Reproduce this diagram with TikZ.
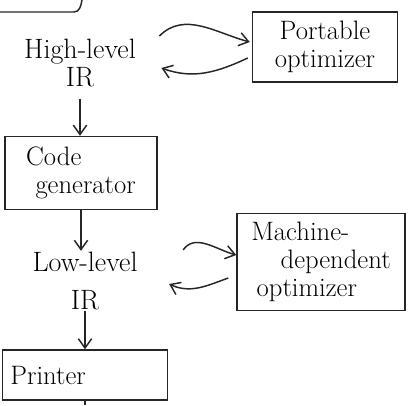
\documentclass[tikz,border=0pt]{standalone}
\usetikzlibrary{arrows.meta,calc}
\begin{document}
\begin{tikzpicture}[x=0.75pt,y=-0.75pt,
  ink/.style={draw=black!85, line width=1.1pt},
  box/.style={ink, rectangle, inner sep=1pt, font=\fontsize{20}{21}\selectfont, align=center},
  lbl/.style={inner sep=1pt, font=\fontsize{21}{21}\selectfont, align=center},
  arr/.style={ink, -{Straight Barb[length=7pt,width=10pt]}}]
\useasboundingbox (0,0) rectangle (414,405);
% partial box at top left
\draw[ink] (0,12) -- (74,12) to[out=0,in=-100] (82,0);
% nodes
\node[lbl] (hl) at (80,63) {High-level\\IR};
\node[box, minimum width=108.75pt, minimum height=52.5pt] (po) at (325,47) {Portable\\optimizer};
\node[box, minimum width=114pt, minimum height=54.75pt, align=left] (cg) at (81,173) {Code\\\hspace*{7pt}generator};
\node[lbl, font=\fontsize{21}{28}\selectfont] (ll) at (85,281) {Low-level\\IR};
\node[box, minimum width=126pt, minimum height=72.75pt, align=left] (md) at (321,262) {Machine-\\\hspace*{22pt}dependent\\\hspace*{4pt}optimizer};
\node[box, minimum width=123.75pt, minimum height=37.5pt] (pr) at (85,375) {\makebox[112pt][l]{Printer}};
\coordinate (bot) at (85,405);
% connectors
\draw[arr] ($(hl.east)+(22,-27)$) to[out=45,in=165] ($(po.west)+(-2,-5)$);
\draw[arr] ($(po.west)+(-4,11)$) to[out=205,in=-20] ($(hl.east)+(24,5)$);
\draw[arr] ($(hl.south)+(0,10)$) -- (hl.south |- cg.north);
\draw[arr] (cg.south) -- (cg.south |- ll.north);
\draw[arr] ($(ll.east)+(44,-31)$) to[out=55,in=165] ($(md.west)+(0,-7)$);
\draw[arr] ($(md.west)+(-8,16)$) to[out=200,in=-25] ($(ll.east)+(30,3)$);
\draw[arr] (ll.south) -- (ll.south |- pr.north);
\draw[ink] (pr.south) -- (bot);
\end{tikzpicture}
\end{document}
